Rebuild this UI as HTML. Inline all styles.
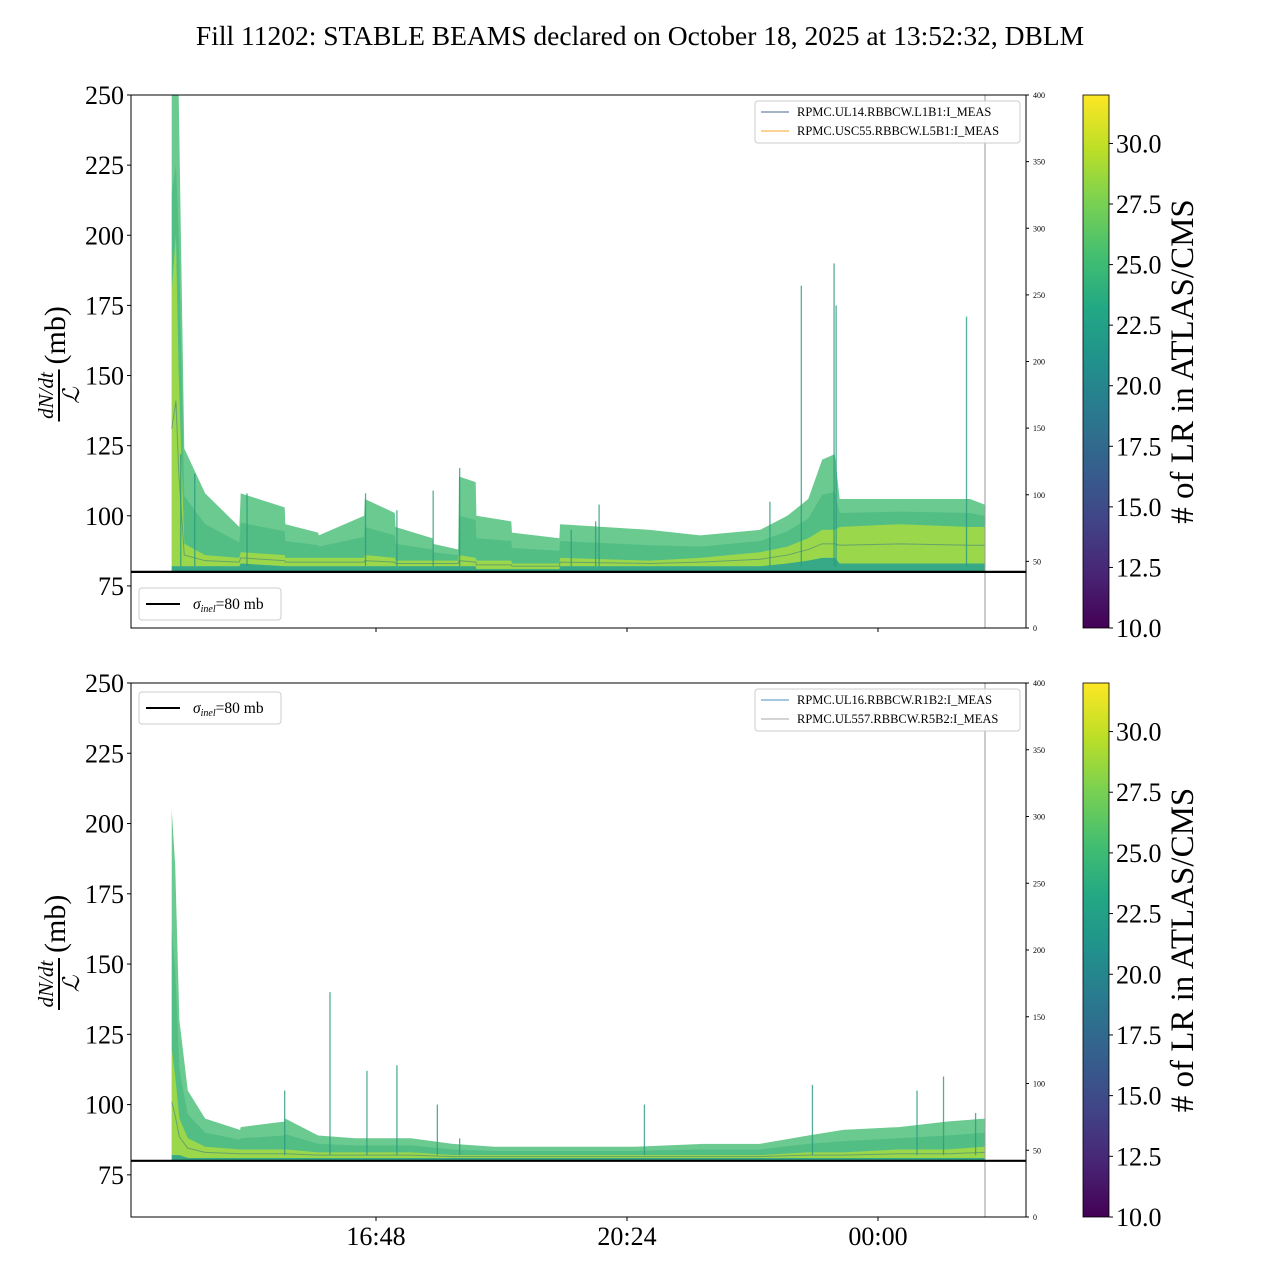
<!DOCTYPE html>
<html><head><meta charset="utf-8">
<style>
html,body{margin:0;padding:0;background:#fff;}
svg{display:block;font-family:"Liberation Serif",serif;}
</style></head>
<body>
<svg id="fig" width="1280" height="1280" viewBox="0 0 1280 1280" xmlns="http://www.w3.org/2000/svg">
<defs>
<linearGradient id="viridis" x1="0" y1="1" x2="0" y2="0">
<stop offset="0" stop-color="#440154"/><stop offset="0.1" stop-color="#482475"/><stop offset="0.2" stop-color="#414487"/><stop offset="0.3" stop-color="#355f8d"/><stop offset="0.4" stop-color="#2a788e"/><stop offset="0.5" stop-color="#21918c"/><stop offset="0.6" stop-color="#22a884"/><stop offset="0.7" stop-color="#44bf70"/><stop offset="0.8" stop-color="#7ad151"/><stop offset="0.9" stop-color="#bddf26"/><stop offset="1" stop-color="#fde725"/>
</linearGradient>
</defs>
<text x="640" y="45" font-size="27.5" text-anchor="middle">Fill 11202: STABLE BEAMS declared on October 18, 2025 at 13:52:32, DBLM</text>
<g id="panels"></g>
</svg>
<script>
// ---- data (hours of day; after midnight +24) ----
const topTimes  = [13.87,13.93,13.97,14.05,14.35,14.84,14.86,15.49,15.5,15.97,15.98,16.63,16.64,17.07,17.08,17.61,17.62,17.98,17.99,18.23,18.24,18.74,18.75,19.43,19.44,20.73,21.45,22.31,22.7,23.0,23.2,23.38,23.45,24.32,25.32,25.53];
const topUpper  = [250,250,250,124,108,96,108,103,97,94,93,100,106,101,96,92,90,88,114,112,100,98,94,92,97,95,93,95,100,106,120,122,106,106,106,104];
const topMid    = [180,200,150,90,86,85,87,86,85,85,85,85,86,85,84,84,84,84,86,85,84,84,83,83,85,84,85,87,89,92,95,95,96,97,96,96];
const topLow    = [82,82,82,82,82,82,83,82,82,82,82,82,82,82,82,82,82,82,82,82,81,81,81,81,82,82,82,82,83,84,85,85,83,83,83,83];
const topSpikeT = [14.0,14.2,14.95,16.65,17.1,17.62,18.0,19.6,19.95,20.0,22.45,22.9,23.37,23.4,25.27];
const topSpikeV = [122,115,108,108,102,109,117,95,98,104,105,182,190,175,171];

const botTimes  = [13.87,13.92,13.98,14.1,14.35,14.85,14.86,15.49,15.5,15.97,16.5,17.3,17.9,18.5,19.5,20.5,21.5,22.3,23.0,23.5,24.3,25.0,25.53];
const botUpper  = [205,185,130,105,95,91,92,94,95,89,88,88,86,85,85,85,86,86,89,91,92,94,95];
const botMid    = [120,110,95,88,85,84,84,84,84,83,83,83,82,82,82,82,82,82,83,83,84,84,85];
const botLow    = [82,82,82,81,81,81,81,81,81,81,81,81,81,81,81,81,81,81,81,81,81,81,81];
const botSpikeT = [15.49,16.14,16.67,17.1,17.68,18.0,20.65,23.06,24.56,24.94,25.4];
const botSpikeV = [105,140,112,114,100,88,100,107,105,110,97];

const xTickH = [16.8,20.4,24.0];
const xTickL = ["16:48","20:24","00:00"];
const yTicks = [75,100,125,150,175,200,225,250];
const rTicks = [0,50,100,150,200,250,300,350,400];
const cTicks = [10.0,12.5,15.0,17.5,20.0,22.5,25.0,27.5,30.0];

const NS="http://www.w3.org/2000/svg";
const root=document.getElementById('panels');
const L=131,R=1026;
function xs(h){return 376+(h-16.8)*69.72;}
function mk(tag,attrs,parent){const e=document.createElementNS(NS,tag);for(const k in attrs)e.setAttribute(k,attrs[k]);(parent||root).appendChild(e);return e;}

function panel(T,B,times,up,mid,low,spT,spV,legTop,names,colors,sigTop,showX,id){
  const ys=v=>T+(250-Math.min(Math.max(v,60.5),250))*(B-T)/190;
  const g=mk('g',{});
  
  
  const clip=mk('clipPath',{id:'c'+id},g);
  mk('rect',{x:L,y:T,width:R-L,height:B-T},clip);
  const d=mk('g',{'clip-path':'url(#c'+id+')'},g);
  function band(a,b,fill,op,name){
    let p=times.map((t,i)=>xs(t)+','+ys(a[i])).join(' ');
    p+=' '+times.slice().reverse().map((t,i)=>xs(t)+','+ys(b[times.length-1-i])).join(' ');
    const e=mk('polygon',{points:p,fill:fill,'fill-opacity':op},d);
    
    
  }
  const base=times.map(()=>80.3);
  band(up,base,'#45bd73',0.8,'upper-band');
  const m2=mid.map((v,i)=>(v+up[i])/2);
  band(m2,mid,'#3bb17a',0.5,'mid-band');
  band(mid,low,'#a8da3a',0.8,'yellow-band');
  band(low,base,'#2aa084',0.8,'low-band');
  const dl=mk('polyline',{points:times.map((t,i)=>xs(t)+','+ys((low[i]+mid[i])/2)).join(' '),fill:'none',stroke:'#2f6f8e','stroke-width':1,'stroke-opacity':0.5},d);
  
  
  spT.forEach((t,i)=>{
    const s=mk('line',{x1:xs(t),x2:xs(t),y1:ys(82),y2:ys(spV[i]),stroke:'#2a9a80','stroke-width':1.3,'stroke-opacity':0.8},d);
    
    
  });
  const vl=mk('line',{x1:985,x2:985,y1:T,y2:B,stroke:'#999','stroke-width':1},g);
  
  
  const sl=mk('line',{x1:L,x2:R,y1:ys(80),y2:ys(80),stroke:'#000','stroke-width':2.2},g);
  
  
  const fr=mk('rect',{x:L,y:T,width:R-L,height:B-T,fill:'none',stroke:'#000','stroke-width':1},g);
  
  
  yTicks.forEach(v=>{
    mk('line',{x1:L-4,x2:L,y1:ys(v),y2:ys(v),stroke:'#000'},g);
    const t=mk('text',{x:L-7,y:ys(v)+9,'font-size':26,'text-anchor':'end'},g);t.textContent=v;
    
    
  });
  rTicks.forEach(v=>{
    const y=B-v*(B-T)/400;
    mk('line',{x1:R,x2:R+3,y1:y,y2:y,stroke:'#000'},g);
    const t=mk('text',{x:R+7,y:y+3,'font-size':8},g);t.textContent=v;
    
    
  });
  xTickH.forEach((h,i)=>{
    mk('line',{x1:xs(h),x2:xs(h),y1:B,y2:B+4,stroke:'#000'},g);
    if(showX){const t=mk('text',{x:xs(h),y:B+28,'font-size':26,'text-anchor':'middle'},g);t.textContent=xTickL[i];
    
    }
  });
  const yl=mk('g',{transform:'translate(63,'+((T+B)/2+8)+') rotate(-90)'},g);
  
  
  let t=mk('text',{x:-26,y:-10,'font-size':21,'font-style':'italic','text-anchor':'middle'},yl);t.textContent='dN/dt';
  mk('line',{x1:-52,x2:0,y1:-4,y2:-4,stroke:'#000','stroke-width':2},yl);
  t=mk('text',{x:-26,y:16,'font-size':23,'font-style':'italic','text-anchor':'middle'},yl);t.textContent='ℒ';
  t=mk('text',{x:5,y:2,'font-size':30},yl);t.textContent='(mb)';
  const lg=mk('g',{},g);
  
  
  mk('rect',{x:755,y:legTop,width:265,height:42,rx:3,fill:'#fff','fill-opacity':0.85,stroke:'#ccc'},lg);
  names.forEach((n,i)=>{
    const y=legTop+11+i*19;
    mk('line',{x1:761,x2:789,y1:y,y2:y,stroke:colors[i],'stroke-width':1},lg);
    const tt=mk('text',{x:797,y:y+4,'font-size':12.5},lg);tt.textContent=n;
    
    
  });
  const sg=mk('g',{},g);
  
  
  mk('rect',{x:139,y:sigTop,width:142,height:32,rx:3,fill:'#fff',stroke:'#ccc'},sg);
  mk('line',{x1:146,x2:180,y1:sigTop+16,y2:sigTop+16,stroke:'#000','stroke-width':2},sg);
  const st=mk('text',{x:193,y:sigTop+21,'font-size':15.5},sg);
  st.innerHTML='<tspan font-style="italic">σ</tspan><tspan font-style="italic" font-size="10" dy="3">inel</tspan><tspan dy="-3">=80 mb</tspan>';
  const cb=mk('g',{},g);
  
  
  mk('rect',{x:1083,y:T,width:26,height:B-T,fill:'url(#viridis)',stroke:'#000','stroke-width':0.8},cb);
  cTicks.forEach(v=>{
    const y=B-(v-10)*(B-T)/22;
    mk('line',{x1:1109,x2:1113,y1:y,y2:y,stroke:'#000'},cb);
    const tt=mk('text',{x:1116,y:y+9,'font-size':26},cb);tt.textContent=v.toFixed(1);
  });
  const ct=mk('text',{x:0,y:0,'font-size':33,'text-anchor':'middle',transform:'translate(1193,'+((T+B)/2)+') rotate(-90)'},cb);
  ct.textContent='# of LR in ATLAS/CMS';
  
  
}
panel(95,628,topTimes,topUpper,topMid,topLow,topSpikeT,topSpikeV,101,['RPMC.UL14.RBBCW.L1B1:I_MEAS','RPMC.USC55.RBBCW.L5B1:I_MEAS'],['#4a6a8a','#f5a623'],588,false,'top-panel');
panel(683,1217,botTimes,botUpper,botMid,botLow,botSpikeT,botSpikeV,689,['RPMC.UL16.RBBCW.R1B2:I_MEAS','RPMC.UL557.RBBCW.R5B2:I_MEAS'],['#4a90c0','#aaaaaa'],692,true,'bottom-panel');
</script>
</body></html>
